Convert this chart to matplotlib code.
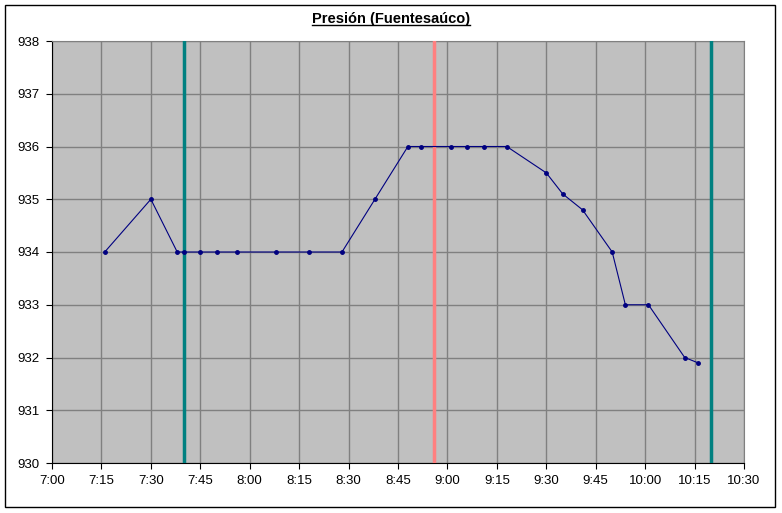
import matplotlib
matplotlib.use("Agg")
import matplotlib.pyplot as plt
from matplotlib.patches import Rectangle

# Readings (hour:minute) and pressure in hPa
times = ["7:16", "7:30", "7:38", "7:40", "7:45", "7:50", "7:56", "8:08", "8:18",
         "8:28", "8:38", "8:48", "8:52", "9:01", "9:06", "9:11", "9:18", "9:30",
         "9:35", "9:41", "9:50", "9:54", "10:01", "10:12", "10:16"]
pressure = [934, 935, 934, 934, 934, 934, 934, 934, 934,
            934, 935, 936, 936, 936, 936, 936, 936, 935.5,
            935.1, 934.8, 934, 933, 933, 932, 931.9]

# vertical markers
teal_marks = ["7:40", "10:20"]
pink_marks = ["8:56"]

tick_labels = ["7:00", "7:15", "7:30", "7:45", "8:00", "8:15", "8:30",
               "8:45", "9:00", "9:15", "9:30", "9:45", "10:00", "10:15", "10:30"]


def to_min(s):
    h, m = s.split(":")
    return int(h) * 60 + int(m)


plt.rcParams["font.family"] = "Liberation Sans"
plt.rcParams["font.size"] = 9.5

fig = plt.figure(figsize=(7.82, 5.13), dpi=100)
ax = fig.add_axes([52 / 782, 1 - 463 / 513, 692 / 782, 422 / 513])
ax.set_facecolor("#c0c0c0")

ticks = [to_min(t) for t in tick_labels]
ax.set_xlim(ticks[0], ticks[-1])
ax.set_ylim(930, 938)
ax.set_xticks(ticks)
ax.set_xticklabels(tick_labels)
ax.set_yticks(range(930, 939))
ax.grid(True, color="#808080", linewidth=1)
ax.set_axisbelow(True)

for t in teal_marks:
    ax.axvline(to_min(t), color="#008080", linewidth=2.5, zorder=3)
for t in pink_marks:
    ax.axvline(to_min(t), color="#ff8080", linewidth=2.5, zorder=3)

ax.plot([to_min(t) for t in times], pressure, color="#000080", linewidth=0.8,
        marker="o", markersize=2.5, zorder=4)

for side in ["top", "right"]:
    ax.spines[side].set_color("#808080")
for side in ["left", "bottom"]:
    ax.spines[side].set_color("black")
ax.tick_params(direction="out", length=4, color="black", pad=5)

title = fig.text(0.5, 1 - 19 / 513, "Presión (Fuentesaúco)", ha="center", va="center",
                 fontweight="bold", fontsize=10.5)
# underline the title under its own extent
fig.canvas.draw()
bb = title.get_window_extent().transformed(fig.transFigure.inverted())
fig.add_artist(plt.Line2D([bb.x0, bb.x1], [bb.y0 + 1 / 513, bb.y0 + 1 / 513],
                          color="black", linewidth=1))

fig.add_artist(Rectangle((5 / 782, 1 - 507 / 513), 770 / 782, 502 / 513,
                         fill=False, edgecolor="black", linewidth=1,
                         transform=fig.transFigure))

fig.savefig("out.png", dpi=100)
